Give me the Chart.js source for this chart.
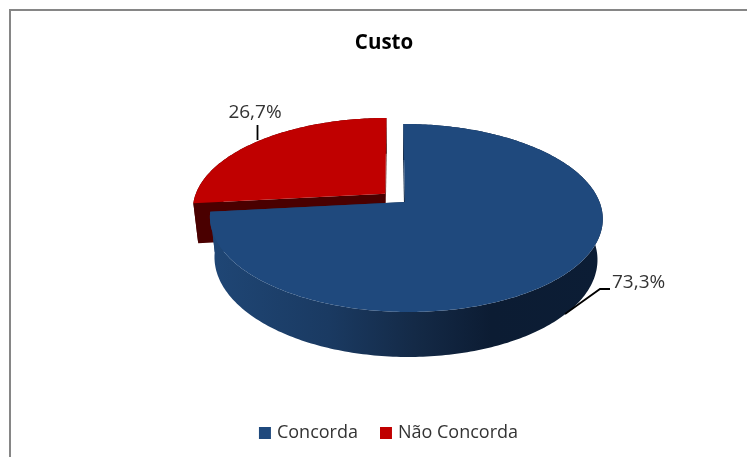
<!DOCTYPE html>
<html lang="pt">
<head>
<meta charset="utf-8">
<title>Custo</title>
<style>
  html, body { margin: 0; padding: 0; background: #fff; }
  canvas { display: block; }
</style>
<script src="https://cdn.jsdelivr.net/npm/chart.js@4"></script>
</head>
<body>
<canvas id="chart" width="747" height="457"></canvas>
<script>
const chartTitle = 'Custo';
const categories = ['Concorda', 'Não Concorda'];
const shares = [73.3, 26.7];
const sliceColors = ['#1F497D', '#C00000'];

// Perspective view of the pie disc, in disc coordinates (u right, v towards the viewer).
const view = {
  x0: 405, y0: 202, scaleX: 193.5, scaleY: 91.3,
  vanishU: -0.06, tiltV: 0.17, tiltU: 0.005,
  depthW: 0.025, depthY: 41.2, explode: 0.138
};

function project(u, v, lower) {
  const w = 1 - view.tiltV * v - view.tiltU * u + (lower ? view.depthW : 0);
  return {
    x: view.x0 + view.scaleX * (view.vanishU + (u - view.vanishU) / w),
    y: view.y0 + (view.scaleY * v + (lower ? view.depthY : 0)) / w
  };
}

function sliceGeometry(el, index) {
  const mid = (el.startAngle + el.endAngle) / 2;
  const shift = index === 1 ? view.explode : 0;
  const cu = shift * Math.cos(mid), cv = shift * Math.sin(mid);
  const rim = (angle, lower) => project(cu + Math.cos(angle), cv + Math.sin(angle), lower);
  const steps = Math.max(8, Math.round((el.endAngle - el.startAngle) * 60));
  const angles = [];
  for (let i = 0; i <= steps; i++) angles.push(el.startAngle + (el.endAngle - el.startAngle) * i / steps);
  return { cu, cv, rim, angles };
}

function tracePath(ctx, points) {
  ctx.beginPath();
  points.forEach((p, i) => i ? ctx.lineTo(p.x, p.y) : ctx.moveTo(p.x, p.y));
  ctx.closePath();
}

function drawSlice(ctx, el, index) {
  const { cu, cv, rim, angles } = sliceGeometry(el, index);
  const apexTop = project(cu, cv, false);
  const apexLow = project(cu, cv, true);
  let wallFill;
  if (index === 0) {
    wallFill = ctx.createLinearGradient(212, 0, 600, 0);
    wallFill.addColorStop(0, '#1F4675');
    wallFill.addColorStop(0.3, '#1A3A62');
    wallFill.addColorStop(0.52, '#142A47');
    wallFill.addColorStop(0.72, '#0C1C33');
    wallFill.addColorStop(1, '#0C1D35');
  } else {
    wallFill = '#4A0000';
  }
  ctx.fillStyle = wallFill;

  // Outer rim wall
  tracePath(ctx, angles.map(a => rim(a, false)).concat(angles.slice().reverse().map(a => rim(a, true))));
  ctx.fill();

  // Cut faces running from the apex to both ends of the slice
  [el.startAngle, el.endAngle].forEach(a => {
    tracePath(ctx, [apexTop, rim(a, false), rim(a, true), apexLow]);
    ctx.fill();
  });

  // Top face
  tracePath(ctx, [apexTop].concat(angles.map(a => rim(a, false))));
  ctx.fillStyle = el.options.backgroundColor;
  ctx.fill();
}

const formatShare = value => value.toFixed(1).replace('.', ',') + '%';

const perspectivePie = {
  id: 'perspectivePie',
  afterLayout(chart) {
    // The legend row sits a little right of the title's centre line.
    chart.legend.left += 6;
    chart.legend.right += 6;
  },
  beforeDraw(chart) {
    const { ctx, width, height } = chart;
    ctx.save();
    ctx.fillStyle = '#fff';
    ctx.fillRect(0, 0, width, height);
    ctx.strokeStyle = '#868686';
    ctx.lineWidth = 2;
    ctx.beginPath();
    ctx.moveTo(10, height);
    ctx.lineTo(10, 10);
    ctx.lineTo(width, 10);
    ctx.stroke();
    ctx.restore();
  },
  beforeDatasetsDraw(chart) {
    const { ctx } = chart;
    const arcs = chart.getDatasetMeta(0).data;
    ctx.save();
    // The exploded slice sits behind the main one.
    drawSlice(ctx, arcs[1], 1);
    drawSlice(ctx, arcs[0], 0);

    // Leader lines and value labels
    ctx.strokeStyle = '#000';
    ctx.lineWidth = 1.8;
    ctx.beginPath();
    ctx.moveTo(257.5, 140);
    ctx.lineTo(257.5, 125);
    ctx.moveTo(565, 314);
    ctx.lineTo(600, 289);
    ctx.lineTo(610, 289);
    ctx.stroke();

    ctx.fillStyle = '#333333';
    ctx.font = '19px "Open Sans"';
    ctx.textBaseline = 'middle';
    ctx.textAlign = 'center';
    ctx.fillText(formatShare(shares[1]), 255, 113);
    ctx.textAlign = 'left';
    ctx.fillText(formatShare(shares[0]), 612, 283);
    ctx.restore();
    return false;
  }
};

new Chart(document.getElementById('chart'), {
  type: 'pie',
  data: {
    labels: categories,
    datasets: [{ data: shares, backgroundColor: sliceColors, borderWidth: 0 }]
  },
  plugins: [perspectivePie],
  options: {
    responsive: false,
    animation: false,
    layout: { padding: { top: 31, bottom: 5, left: 21, right: 0 } },
    plugins: {
      tooltip: { enabled: false },
      title: {
        display: true,
        text: chartTitle,
        color: '#000',
        font: { family: '"Open Sans"', size: 20.5, weight: 'bold' },
        padding: { top: 0, bottom: 10 }
      },
      legend: {
        position: 'bottom',
        labels: {
          usePointStyle: true,
          pointStyle: 'rect',
          boxWidth: 6,
          boxHeight: 12,
          padding: 25,
          color: '#333333',
          font: { family: '"Open Sans"', size: 18 }
        }
      }
    }
  }
});
</script>
</body>
</html>
